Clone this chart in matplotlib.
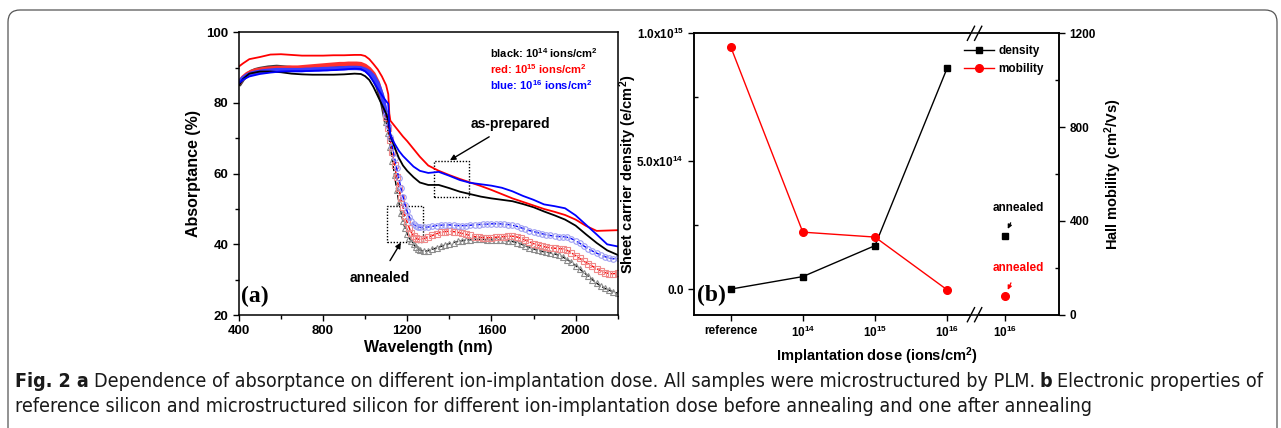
import matplotlib
matplotlib.use('Agg')
import matplotlib.pyplot as plt
from matplotlib import font_manager
from matplotlib.patches import FancyBboxPatch, Rectangle
import matplotlib.transforms as mtransforms

# caption font: a condensed sans if one is there
capfont, capstretch = 'DejaVu Sans', 'normal'
for f in font_manager.fontManager.ttflist:
    if f.name == 'Liberation Sans Narrow':
        capfont, capstretch = 'Liberation Sans Narrow', 'normal'
        break
    if f.name == 'DejaVu Sans' and f.stretch == 'condensed':
        capstretch = 'condensed'

plt.rcParams['font.family'] = 'Liberation Sans'
plt.rcParams['font.weight'] = 'bold'
plt.rcParams['mathtext.fontset'] = 'custom'
plt.rcParams['mathtext.rm'] = 'Liberation Sans:bold'
plt.rcParams['mathtext.bf'] = 'Liberation Sans:bold'
plt.rcParams['mathtext.default'] = 'bf'

# ---------------- panel (a) data ----------------
wl_prep = [400, 420, 450, 500, 550, 600, 650, 700, 750, 800, 850, 900, 950, 980, 1000, 1020,
           1040, 1060, 1080, 1100, 1110, 1115, 1120, 1140, 1160, 1180, 1200, 1230, 1260, 1300,
           1350, 1400, 1450, 1500, 1550, 1600, 1650, 1700, 1750, 1800, 1850, 1900, 1950, 2000,
           2050, 2100, 2150, 2200]
prep_black = [85.0, 86.8, 88.3, 88.9, 88.9, 88.7, 88.3, 88.1, 88.0, 88.0, 88.0, 88.1, 88.3, 88.2,
              87.6, 86.5, 84.5, 82.0, 79.5, 77.0, 75.0, 73.0, 71.0, 67.5, 64.5, 62.3, 60.8, 59.0,
              57.5, 56.8, 56.8, 55.9, 54.9, 54.2, 53.5, 53.0, 52.6, 52.2, 51.4, 50.5, 49.3, 48.2,
              47.0, 45.3, 42.8, 40.4, 38.3, 37.0]
prep_red = [90.3, 91.2, 92.4, 93.0, 93.7, 93.8, 93.6, 93.4, 93.4, 93.4, 93.5, 93.5, 93.6, 93.6,
            93.3, 92.4, 91.0, 89.5, 87.5, 85.0, 82.5, 77.0, 75.0, 73.5, 72.0, 70.5, 69.2, 67.0,
            64.8, 62.3, 60.8, 59.6, 58.5, 57.5, 56.5, 55.4, 54.2, 53.0, 52.0, 51.0, 50.0, 49.2,
            48.3, 47.0, 45.2, 43.8, 43.9, 44.0]
prep_blue = [85.6, 86.6, 87.5, 88.2, 88.6, 88.9, 89.0, 89.0, 89.1, 89.2, 89.3, 89.5, 89.7, 89.6,
             89.0, 87.8, 86.0, 84.0, 82.2, 80.5, 79.8, 74.0, 71.0, 68.5, 66.5, 65.0, 63.8, 62.0,
             60.8, 60.2, 60.5, 59.4, 58.2, 57.4, 57.0, 56.6, 56.0, 55.0, 53.7, 52.6, 51.3, 50.8,
             50.2, 48.2, 45.5, 42.8, 40.0, 39.4]

wl_ann = [400, 420, 440, 460, 480, 500, 520, 540, 560, 580, 600, 620, 640, 660, 680, 700, 720,
          740, 760, 780, 800, 820, 840, 860, 880, 900, 920, 940, 960, 980, 1000, 1020, 1040, 1060,
          1080, 1090, 1100, 1110, 1120, 1130, 1140, 1150, 1160, 1170, 1180, 1190, 1200, 1210,
          1220, 1230, 1240, 1250, 1260, 1280, 1300, 1320, 1340, 1360, 1380, 1400, 1420, 1440,
          1460, 1480, 1500, 1520, 1540, 1560, 1580, 1600, 1620, 1640, 1660, 1680, 1700, 1720,
          1740, 1760, 1780, 1800, 1820, 1840, 1860, 1880, 1900, 1920, 1940, 1960, 1980, 2000,
          2020, 2040, 2060, 2080, 2100, 2120, 2140, 2160, 2180, 2200]
ann_black = [85.0, 86.8, 88.0, 88.8, 89.3, 89.6, 89.8, 90.0, 90.1, 90.2, 90.1, 90.0, 89.9, 89.8,
             89.8, 89.8, 89.8, 89.8, 89.8, 89.9, 89.9, 90.0, 90.0, 90.0, 90.1, 90.1, 90.1, 90.2,
             90.2, 90.0, 89.5, 88.5, 87.0, 84.5, 80.5, 77.5, 74.5, 71.5, 67.5, 63.5, 59.5, 55.5,
             52.0, 49.0, 46.5, 44.5, 43.0, 41.8, 40.8, 40.0, 39.3, 38.8, 38.4, 38.0, 38.2, 38.6,
             39.0, 39.4, 39.8, 40.2, 40.5, 40.8, 41.0, 41.2, 41.3, 41.4, 41.4, 41.4, 41.3, 41.3,
             41.2, 41.2, 41.1, 41.0, 40.8, 40.5, 40.1, 39.6, 39.1, 38.7, 38.3, 38.0, 37.8, 37.6,
             37.3, 36.9, 36.4, 35.7, 34.9, 34.0, 33.0, 32.0, 31.0, 30.0, 29.0, 28.2, 27.5, 27.0,
             26.5, 26.2]
ann_red = [85.5, 87.2, 88.2, 88.8, 89.2, 89.4, 89.6, 89.7, 89.8, 89.9, 89.9, 89.9, 90.0, 90.0,
           90.0, 90.1, 90.2, 90.3, 90.4, 90.5, 90.6, 90.7, 90.8, 90.9, 91.0, 91.0, 91.1, 91.1,
           91.1, 91.0, 90.5, 89.6, 88.2, 85.8, 82.0, 79.2, 76.0, 72.8, 69.5, 66.0, 62.5, 59.0,
           56.0, 53.0, 50.5, 48.0, 46.2, 44.6, 43.3, 42.4, 41.8, 41.5, 41.4, 41.6, 42.0, 42.5,
           43.0, 43.4, 43.6, 43.7, 43.6, 43.4, 43.1, 42.8, 42.5, 42.2, 42.0, 41.9, 41.9, 41.9,
           42.0, 42.1, 42.2, 42.3, 42.3, 42.1, 41.7, 41.2, 40.7, 40.2, 39.8, 39.5, 39.2, 39.0,
           38.9, 38.8, 38.7, 38.3, 37.6, 36.8, 36.0, 35.2, 34.5, 33.8, 33.1, 32.5, 32.0, 31.7,
           31.7, 31.8]
ann_blue = [85.8, 87.0, 87.8, 88.3, 88.6, 88.8, 89.0, 89.1, 89.2, 89.3, 89.3, 89.3, 89.3, 89.3,
            89.3, 89.3, 89.4, 89.4, 89.5, 89.5, 89.6, 89.6, 89.7, 89.7, 89.8, 89.8, 89.9, 89.9,
            89.9, 89.8, 89.4, 88.7, 87.5, 85.5, 82.2, 79.5, 76.5, 73.5, 70.5, 67.5, 64.5, 61.5,
            58.8, 56.0, 53.5, 51.2, 49.3, 47.8, 46.6, 45.8, 45.2, 44.9, 44.8, 44.8, 44.9, 45.1,
            45.3, 45.4, 45.5, 45.5, 45.4, 45.3, 45.3, 45.3, 45.4, 45.5, 45.6, 45.7, 45.7, 45.8,
            45.8, 45.8, 45.7, 45.6, 45.4, 45.1, 44.7, 44.3, 43.9, 43.6, 43.3, 43.0, 42.7, 42.5,
            42.3, 42.2, 42.2, 42.0, 41.6, 41.0, 40.3, 39.5, 38.8, 38.1, 37.5, 37.0, 36.5, 36.1,
            35.9, 36.0]

# ---------------- panel (b) data ----------------
dose_labels = ['reference', '$10^{14}$', '$10^{15}$', '$10^{16}$', '$10^{16}$']
dose_pos = [0, 1, 2, 3, 3.8]
density = [0.0, 0.049e15, 0.17e15, 0.864e15]
mobility = [1143, 352, 331, 106]
density_ann = 0.208e15
mobility_ann = 78

W, H = 1281, 428
fig = plt.figure(figsize=(W / 100, H / 100), dpi=100)

# outer rounded frame
fig.patches.append(FancyBboxPatch((0.08, -0.6), 12.69, 4.78,
                                  boxstyle='round,pad=0,rounding_size=0.12',
                                  transform=fig.dpi_scale_trans, fc='none', ec='#555555', lw=0.9))

# ================= panel (a) =================
ax = fig.add_axes([238.8 / W, 1 - 315 / H, (617.7 - 238.8) / W, (315 - 32.3) / H])
n_vis = wl_ann.index(1100) + 1   # up to 1100 nm the symbols merge into a thick band
ann_styles = [(ann_black, '^', '#8c8c8c', 'black', '#3a3a3a'),
              (ann_red, 's', '#f08a8a', 'red', '#ff3030'),
              (ann_blue, 'o', '#9e9ef2', 'blue', '#3b3bff')]
for vals, mk, mc, lc, bc in ann_styles:
    ax.plot(wl_ann[:n_vis], vals[:n_vis], color=bc, lw=3.2, solid_capstyle='butt')
    ax.plot(wl_ann[n_vis - 1:], vals[n_vis - 1:], ls='--', color=lc, lw=1, marker=mk, ms=4.0,
            mfc='none', mec=mc, mew=0.8)
ax.plot(wl_prep, prep_black, color='black', lw=1.3)
ax.plot(wl_prep, prep_red, color='red', lw=1.3)
ax.plot(wl_prep, prep_blue, color='blue', lw=1.3)

ax.set_xlim(400, 2200)
ax.set_ylim(20, 100)
ax.set_xticks([400, 800, 1200, 1600, 2000])
ax.set_xticks([600, 1000, 1400, 1800, 2200], minor=True)
ax.set_yticks([20, 40, 60, 80, 100])
ax.set_yticks([30, 50, 70, 90], minor=True)
ax.tick_params(which='both', direction='out', labelsize=9.5, width=1, top=False, right=False)
ax.tick_params(which='major', length=4)
ax.tick_params(which='minor', length=3)
for s in ax.spines.values():
    s.set_linewidth(1.1)
ax.set_xlabel('Wavelength (nm)', fontsize=11.5, fontweight='bold', labelpad=2)
ax.set_ylabel('Absorptance (%)', fontsize=11.5, fontweight='bold', labelpad=4)

# dotted boxes
ax.add_patch(Rectangle((1325, 53.5), 170, 10.2, fill=False, ls=(0, (1, 1.2)), lw=1, ec='black'))
ax.add_patch(Rectangle((1103, 40.7), 171, 10.2, fill=False, ls=(0, (1, 1.2)), lw=1, ec='black'))
ax.annotate('as-prepared', xy=(1403, 63.8), xytext=(1690, 74), fontsize=10, fontweight='bold',
            ha='center', va='center',
            arrowprops=dict(arrowstyle='-|>', color='black', lw=1, shrinkA=4, shrinkB=0,
                            mutation_scale=8))
ax.annotate('annealed', xy=(1170, 40.5), xytext=(1070, 30.6), fontsize=10, fontweight='bold',
            ha='center', va='center',
            arrowprops=dict(arrowstyle='-|>', color='black', lw=1, shrinkA=6, shrinkB=0,
                            mutation_scale=8))
ax.text(1593, 94.1, 'black: 10$^{14}$ ions/cm$^2$', color='black', fontsize=8, va='center')
ax.text(1593, 89.6, 'red: 10$^{15}$ ions/cm$^2$', color='red', fontsize=8, va='center')
ax.text(1593, 85.0, 'blue: 10$^{16}$ ions/cm$^2$', color='blue', fontsize=8, va='center')
ax.text(0.005, 0.065, '(a)', transform=ax.transAxes, family='Liberation Serif',
        fontweight='bold', fontsize=17, va='center', ha='left')

# ================= panel (b) =================
axb = fig.add_axes([694 / W, 1 - 314.7 / H, (1059 - 694) / W, (314.7 - 33.3) / H])
ax2 = axb.twinx()
l1, = axb.plot(dose_pos[:4], density, color='black', lw=1, marker='s', ms=5, label='density')
axb.plot([dose_pos[4]], [density_ann], color='black', marker='s', ms=5, ls='none')
l2, = ax2.plot(dose_pos[:4], mobility, color='red', lw=1, marker='o', ms=5.5, label='mobility')
ax2.plot([dose_pos[4]], [mobility_ann], color='red', marker='o', ms=5.5, ls='none')

axb.set_xlim(-0.508, 4.55)
axb.set_ylim(-0.1e15, 1.0e15)
ax2.set_ylim(0, 1200)
axb.set_xticks(dose_pos)
axb.set_xticklabels(dose_labels)
axb.set_yticks([0, 0.5e15, 1.0e15])
axb.set_yticklabels(['0.0', '5.0x10$^{14}$', '1.0x10$^{15}$'])
axb.set_yticks([0.25e15, 0.75e15], minor=True)
ax2.set_yticks([0, 400, 800, 1200])
ax2.set_yticks([200, 600, 1000], minor=True)
for a in (axb, ax2):
    a.tick_params(which='major', direction='out', length=4, width=1, labelsize=8.5)
    a.tick_params(which='minor', direction='in', length=3, width=1)
    for s in a.spines.values():
        s.set_linewidth(1.1)
axb.set_xlabel('Implantation dose (ions/cm$^2$)', fontsize=10.5, fontweight='bold', labelpad=4)
axb.set_ylabel('Sheet carrier density (e/cm$^2$)', fontsize=10.5, fontweight='bold')
axb.yaxis.set_label_coords(-0.151, 0.5)
ax2.set_ylabel('Hall mobility (cm$^2$/Vs)', fontsize=10.5, fontweight='bold', labelpad=5)

ax2.legend(handles=[l1, l2], loc='upper left', bbox_to_anchor=(0.71, 0.995), frameon=False,
           fontsize=8.5, handlelength=2.6, handletextpad=0.3, labelspacing=0.45)

ax2.annotate('annealed', xy=(3.84, 366), xytext=(3.98, 456), fontsize=8.5, fontweight='bold',
             ha='center', va='center', color='black',
             arrowprops=dict(arrowstyle='-|>', color='black', lw=0.9, shrinkA=5, shrinkB=0,
                             mutation_scale=6))
ax2.annotate('annealed', xy=(3.84, 106), xytext=(3.98, 200), fontsize=8.5, fontweight='bold',
             ha='center', va='center', color='red',
             arrowprops=dict(arrowstyle='-|>', color='red', lw=0.9, shrinkA=5, shrinkB=0,
                             mutation_scale=6))
axb.text(0.008, 0.07, '(b)', transform=axb.transAxes, family='Liberation Serif',
         fontweight='bold', fontsize=17, va='center', ha='left')

# axis break marks
brk = 3.38
trans = mtransforms.blended_transform_factory(axb.transData, axb.transAxes)
for yy in (0.0, 1.0):
    axb.add_patch(Rectangle((brk - 0.06, yy - 0.01), 0.12, 0.02, transform=trans, fc='white',
                            ec='none', clip_on=False, zorder=5))
    for dx in (-0.05, 0.05):
        axb.plot([brk + dx - 0.05, brk + dx + 0.05], [yy - 0.025, yy + 0.025], color='black',
                 lw=1, transform=trans, clip_on=False, zorder=6)

# ================= caption =================
line1 = [('Fig. 2 a', 'bold'),
         ('Dependence of absorptance on different ion-implantation dose. All samples were microstructured by PLM.', 'normal'),
         ('b', 'bold'),
         ('Electronic properties of', 'normal')]
line2 = [('reference silicon and microstructured silicon for different ion-implantation dose before annealing and one after annealing', 'normal')]

renderer = fig.canvas.get_renderer()


def put_line(parts, x0, ybase, size, draw=True):
    x = x0
    texts = []
    gap = size * 0.25 * 100 / 72
    for s, w in parts:
        t = fig.text(x / W, 1 - ybase / H, s, fontsize=size, fontweight=w, family=capfont,
                     fontstretch=capstretch, va='baseline', ha='left', color='#1a1a1a')
        x += t.get_window_extent(renderer).width + gap
        texts.append(t)
    if not draw:
        for t in texts:
            t.remove()
    return x - gap


w12 = put_line(line1, 15, 387, 12, draw=False) - 15
cap_size = 12 * 1247 / w12
put_line(line1, 15, 387, cap_size)
put_line(line2, 15, 412, cap_size)

fig.savefig('out.png', dpi=100)
